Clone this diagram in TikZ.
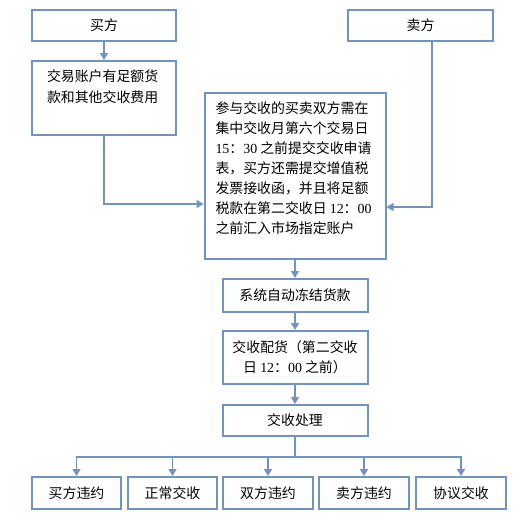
\documentclass[tikz,border=0pt]{standalone}
\usepackage{fontspec}
\setmainfont{Noto Sans CJK SC}
\newfontfamily\latin{Liberation Serif}
\usetikzlibrary{arrows.meta,calc}
\definecolor{lineblue}{RGB}{112,148,194}
\newcommand\dig[1]{{\latin #1}}
\tikzset{
    box/.style={draw=lineblue, line width=2pt, fill=white, inner sep=0pt,
        minimum height=31pt, font=\fontsize{13.9}{20}\selectfont},
    link/.style={draw=lineblue, line width=1.5pt},
    arr/.style={link, -{Triangle[width=8pt,length=7pt]}}
}
\begin{document}
\begin{tikzpicture}[x=1pt, y=-1pt]
        \useasboundingbox (0,0) rectangle (521,517);
        % Top row
        \node[box, minimum width=144pt] (buyer) at (104,25.5) {买方};
        \node[box, minimum width=145pt] (seller) at (420.5,25.5) {卖方};
        \node[box, minimum width=144pt, minimum height=74pt] (account) at (104,98)
            {\parbox[c][56pt][t]{114pt}{\baselineskip=21pt 交易账户有足额货\\款和其他交收费用}};

        % Middle column
        \node[box, minimum width=181pt, minimum height=166pt] (apply) at (295,176)
            {\parbox[c][148pt][t]{159pt}{参与交收的买卖双方需在\\集中交收月第六个交易日\\
            \dig{15}：\dig{30} 之前提交交收申请\\表，买方还需提交增值税\\发票接收函，并且将足额\\
            税款在第二交收日 \dig{12}：\dig{00}\\之前汇入市场指定账户}};
        \node[box, minimum width=145pt, minimum height=33pt] (freeze) at (295,295.5) {系统自动冻结货款};
        \node[box, minimum width=145pt, minimum height=53pt, align=center] (match) at (295,357.5)
            {交收配货（第二交收\\日 \dig{12}：\dig{00} 之前）};
        \node[box, minimum width=145pt] (process) at (295,420.5) {交收处理};

        % Bottom row
        \node[box, minimum width=89pt, minimum height=32pt] (b1) at (76.5,493) {买方违约};
        \node[box, minimum width=89pt, minimum height=32pt] (b2) at (172.5,493) {正常交收};
        \node[box, minimum width=90pt, minimum height=32pt] (b3) at (268,493) {双方违约};
        \node[box, minimum width=90pt, minimum height=32pt] (b4) at (364,493) {卖方违约};
        \node[box, minimum width=90pt, minimum height=32pt] (b5) at (461,493) {协议交收};

        % Connectors
        \coordinate (sellerdrop) at ($(seller.south)+(11.5,0)$);
        \coordinate (split) at ($(process.south)+(0,20)$);
        \draw[arr] (buyer) -- (account);
        \draw[arr] (account.south) |- ($(apply.west)+(0,28)$);
        \draw[arr] (sellerdrop) |- ($(apply.east)+(0,31)$);
        \draw[arr] (apply) -- (freeze);
        \draw[arr] (freeze) -- (match);
        \draw[arr] (match) -- (process);
        \foreach \n in {b1,b2,b3,b4,b5}
            \draw[arr] (process.south) -- (split) -| (\n.north);
    \end{tikzpicture}
\end{document}
